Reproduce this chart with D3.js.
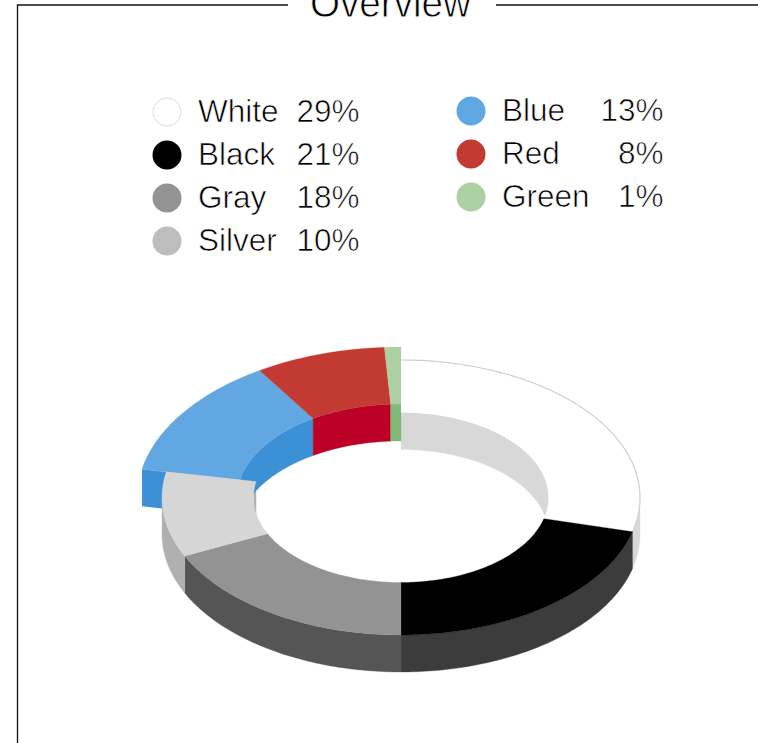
<!DOCTYPE html>
<html><head><meta charset="utf-8"><style>html,body{margin:0;padding:0;background:#fff}svg{display:block}</style>
<script src="https://cdn.jsdelivr.net/npm/d3@7/dist/d3.min.js"></script></head><body><script>
const categories=["White","Black","Gray","Silver","Blue","Red","Green"];
const shares=[29,21,18,10,13,8,1];
const legendColors=["#ffffff","#000000","#939393","#bdbdbd","#61a7e2","#c23a31","#add0a3"];
const topColors=["#ffffff","#000000","#939393","#d6d6d6","#61a7e2","#c23a31","#add0a3"];
const sideColors=["#d8d8d8","#3c3c3c","#555555","#b0b0b0","#3c91d6","#bd0026","#80ba78"];
const raisedSlices=["Blue","Red","Green"];
const FONT='"Liberation Sans", Arimo, Helvetica, sans-serif';
const W=758,H=743,cx=401,cy=497.5,depth=37;
const ringNormal={orx:239,ory:137.5,irx:147.5,iry:85};
const ringRaised={orx:263.7,ory:150.5,irx:164,iry:93.5};
const svg=d3.select("body").append("svg").attr("width",W).attr("height",H);
// thin the regular glyphs with a white outline painted over the fill
const lightText=sel=>sel.attr("font-family",FONT).attr("fill","#000").attr("stroke","#fff").attr("paint-order","fill");
const frame="#111";
svg.append("path").attr("fill","none").attr("stroke",frame).attr("stroke-width",1.3)
 .attr("d","M288,5H17.5V743M496,5H758");
svg.append("text").attr("x",310).attr("y",17).attr("font-size",40).attr("stroke-width",.8)
 .attr("textLength",161).attr("lengthAdjust","spacingAndGlyphs")
 .call(lightText).text("Overview");
// legend
const rows=categories.map((c,i)=>({c,v:shares[i],col:i<4?0:1,row:i<4?i:i-4,fill:legendColors[i]}));
const colX=[167,471],rightX=[359.5,663.5],labelX=[198,502],rowY=[112,155,198,241];
const lg=svg.append("g").selectAll("g").data(rows).join("g");
const dy=d=>d.col===1?-1:0;
lg.append("circle").attr("cx",d=>colX[d.col]).attr("cy",d=>rowY[d.row]+dy(d)).attr("r",d=>d.c==="White"?14:14.5)
 .attr("fill",d=>d.fill).attr("stroke",d=>d.c==="White"?"#dddddd":"none").attr("stroke-width",1);
lg.append("text").attr("x",d=>labelX[d.col]).attr("y",d=>rowY[d.row]+10+dy(d)).attr("font-size",31.5).attr("stroke-width",.65)
 .call(lightText).text(d=>d.c);
lg.append("text").attr("x",d=>rightX[d.col]).attr("y",d=>rowY[d.row]+10+dy(d)).attr("text-anchor","end").attr("font-size",31.5).attr("stroke-width",.65)
 .call(lightText).text(d=>d.v+"%");
// donut
const pie=d3.pie().sort(null).value(d=>d.v).startAngle(0).endAngle(2*Math.PI);
const slices=pie(categories.map((c,i)=>({c,v:shares[i],top:topColors[i],side:sideColors[i]})))
 .map(s=>({...s,ring:raisedSlices.includes(s.data.c)?ringRaised:ringNormal}));
const line=d3.line();
const pt=(rx,ry,a,z=0)=>[cx+rx*Math.sin(a),cy-ry*Math.cos(a)+z];
const arcPts=(rx,ry,a0,a1,z=0)=>{const n=Math.max(2,Math.ceil(Math.abs(a1-a0)*60));
 return d3.range(n+1).map(i=>pt(rx,ry,a0+(a1-a0)*i/n,z));};
const wall=(rx,ry,a0,a1)=>line(arcPts(rx,ry,a0,a1).concat(arcPts(rx,ry,a1,a0,depth)))+"Z";
const chart=svg.append("g");
const PI=Math.PI;
// inner walls: visible on far half only
slices.forEach(s=>{
 const parts=[[s.startAngle,Math.min(s.endAngle,PI/2)],[Math.max(s.startAngle,1.5*PI),s.endAngle]];
 parts.filter(p=>p[1]>p[0]).forEach(p=>{
  chart.append("path").attr("d",wall(s.ring.irx,s.ring.iry,p[0],p[1])).attr("fill",s.data.side).attr("stroke",s.data.side).attr("stroke-width",.3);
 });
});
// exposed end cap of raised ring (start of first raised slice)
const firstRaised=slices.find(s=>s.ring===ringRaised);
{const a=firstRaised.startAngle,r=ringRaised;
 const p=pt(r.orx,r.ory,a),q=pt(r.irx,r.iry,a);
 chart.append("path").attr("d",line([p,q,[q[0],q[1]+depth],[p[0],p[1]+depth]])+"Z").attr("fill",firstRaised.data.side);}
// outer walls: near half
slices.forEach(s=>{
 const a0=Math.max(s.startAngle,PI/2),a1=Math.min(s.endAngle,1.5*PI);
 if(a1>a0) chart.append("path").attr("d",wall(s.ring.orx,s.ring.ory,a0,a1)).attr("fill",s.data.side).attr("stroke",s.data.side).attr("stroke-width",.3);
});
// top faces: raised ones first so that Silver overlaps Blue
[...slices].sort((a,b)=>(b.ring===ringRaised)-(a.ring===ringRaised)).forEach(s=>{
 const r=s.ring;
 const pts=arcPts(r.orx,r.ory,s.startAngle,s.endAngle).concat(arcPts(r.irx,r.iry,s.endAngle,s.startAngle));
 chart.append("path").attr("d",line(pts)+"Z").attr("fill",s.data.top).attr("stroke",s.data.c==="White"?"none":s.data.top).attr("stroke-width",.3);
 if(s.data.c==="White") chart.append("path").attr("d",line(arcPts(r.orx,r.ory,s.startAngle,s.endAngle))).attr("fill","none").attr("stroke","#cfcfcf").attr("stroke-width",1.2);
});
</script></body></html>
